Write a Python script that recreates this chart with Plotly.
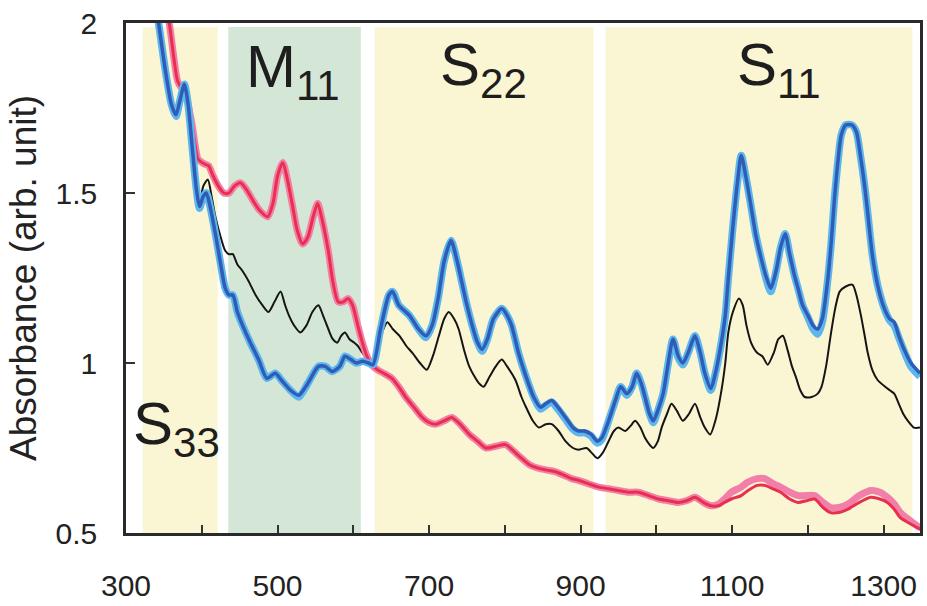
import plotly.graph_objects as go

# --- Optical absorbance spectra (normalized near 620 nm) ---
# Black: pristine dispersion
black_wl = [335, 343, 352, 360, 366, 371, 377, 382, 388, 393, 397, 402, 408, 413, 418, 425, 431, 436, 441, 447,
            454, 462, 471, 480, 488, 496, 504, 510, 515, 522, 530, 538, 546, 554, 560, 567, 573, 579, 584, 589,
            595, 601, 606, 612, 618, 624, 630, 638, 645, 652, 661, 670, 678, 688, 697, 705, 713, 720, 726, 733,
            739, 746, 753, 760, 766, 772, 780, 788, 796, 803, 814, 822, 828, 837, 845, 854, 862, 871, 880, 890,
            897, 908, 915, 922, 929, 937, 944, 950, 959, 966, 972, 979, 985, 991, 996, 1002, 1007, 1014, 1020, 1027,
            1035, 1043, 1051, 1058, 1064, 1071, 1079, 1086, 1091, 1095, 1101, 1109, 1114, 1119, 1125, 1133, 1140, 1147, 1155, 1161,
            1167, 1173, 1179, 1184, 1190, 1196, 1205, 1213, 1218, 1224, 1230, 1236, 1242, 1250, 1259, 1264, 1270, 1275, 1279, 1285,
            1292, 1302, 1308, 1314, 1320, 1326, 1332, 1340, 1348]
black_abs = [2.12, 2.00, 1.86, 1.76, 1.73, 1.77, 1.82, 1.76, 1.62, 1.51, 1.465, 1.52, 1.54, 1.49, 1.43, 1.37, 1.33, 1.32, 1.32, 1.29,
             1.27, 1.24, 1.20, 1.17, 1.15, 1.18, 1.21, 1.17, 1.14, 1.11, 1.09, 1.11, 1.15, 1.17, 1.14, 1.10, 1.07, 1.06, 1.08, 1.09,
             1.07, 1.06, 1.05, 1.03, 1.01, 0.995, 1.03, 1.09, 1.12, 1.10, 1.08, 1.05, 1.03, 1.00, 0.98, 1.02, 1.08, 1.13, 1.15, 1.13,
             1.10, 1.04, 0.99, 0.96, 0.94, 0.93, 0.96, 0.99, 1.01, 0.99, 0.95, 0.90, 0.87, 0.83, 0.81, 0.82, 0.82, 0.80, 0.77, 0.75,
             0.745, 0.75, 0.735, 0.72, 0.735, 0.77, 0.80, 0.81, 0.80, 0.815, 0.83, 0.81, 0.78, 0.76, 0.75, 0.77, 0.81, 0.85, 0.88, 0.86,
             0.83, 0.85, 0.88, 0.84, 0.81, 0.79, 0.84, 0.92, 1.00, 1.09, 1.15, 1.19, 1.17, 1.11, 1.06, 1.03, 1.02, 0.995, 1.03, 1.07,
             1.08, 1.04, 0.99, 0.96, 0.92, 0.90, 0.90, 0.91, 0.93, 0.99, 1.08, 1.16, 1.21, 1.225, 1.23, 1.20, 1.14, 1.08, 1.03, 0.98,
             0.95, 0.93, 0.92, 0.91, 0.88, 0.85, 0.83, 0.81, 0.81]

# Blue: semiconducting-enriched fraction (dark core + light halo)
blue_wl = [335, 343, 352, 360, 366, 371, 377, 382, 388, 393, 397, 402, 406, 411, 418, 425, 431, 436, 441, 447,
           454, 464, 475, 486, 497, 505, 517, 528, 540, 554, 563, 572, 582, 589, 597, 604, 612, 620, 626, 636,
           647, 652, 660, 674, 686, 696, 704, 712, 720, 729, 737, 743, 750, 757, 764, 770, 777, 785, 796, 803,
           809, 818, 828, 838, 847, 854, 862, 870, 880, 890, 897, 905, 914, 922, 928, 937, 946, 953, 961, 968,
           974, 980, 985, 991, 996, 1002, 1009, 1015, 1022, 1029, 1035, 1042, 1051, 1058, 1064, 1072, 1078, 1085, 1091, 1095,
           1101, 1107, 1112, 1118, 1125, 1131, 1137, 1144, 1151, 1158, 1164, 1170, 1176, 1182, 1187, 1193, 1200, 1207, 1213, 1219,
           1226, 1231, 1235, 1240, 1244, 1250, 1258, 1264, 1270, 1275, 1280, 1285, 1292, 1301, 1308, 1314, 1320, 1327, 1336, 1348]
blue_abs = [2.12, 2.00, 1.86, 1.76, 1.73, 1.77, 1.82, 1.76, 1.62, 1.51, 1.46, 1.49, 1.50, 1.46, 1.38, 1.29, 1.22, 1.20, 1.20, 1.15,
            1.11, 1.06, 1.01, 0.955, 0.97, 0.95, 0.92, 0.905, 0.94, 0.99, 0.99, 0.975, 0.99, 1.02, 1.01, 1.00, 1.005, 1.00, 0.995, 1.10,
            1.20, 1.21, 1.17, 1.14, 1.10, 1.08, 1.11, 1.19, 1.30, 1.36, 1.30, 1.24, 1.17, 1.11, 1.06, 1.04, 1.07, 1.13, 1.16, 1.14,
            1.11, 1.03, 0.96, 0.90, 0.87, 0.88, 0.89, 0.87, 0.84, 0.81, 0.80, 0.80, 0.79, 0.77, 0.78, 0.83, 0.89, 0.93, 0.91, 0.93,
            0.97, 0.94, 0.90, 0.85, 0.83, 0.86, 0.91, 0.99, 1.07, 1.02, 1.00, 1.03, 1.08, 1.03, 0.97, 0.925, 0.97, 1.05, 1.14, 1.25,
            1.40, 1.53, 1.61, 1.55, 1.46, 1.38, 1.32, 1.26, 1.22, 1.27, 1.34, 1.38, 1.32, 1.26, 1.22, 1.17, 1.14, 1.11, 1.10, 1.13,
            1.24, 1.36, 1.48, 1.60, 1.67, 1.70, 1.70, 1.68, 1.60, 1.52, 1.42, 1.32, 1.23, 1.16, 1.13, 1.12, 1.08, 1.04, 1.00, 0.97]
light_blue_abs = [2.12, 2.00, 1.86, 1.76, 1.725, 1.77, 1.82, 1.76, 1.62, 1.51, 1.455, 1.49, 1.50, 1.46, 1.38, 1.29, 1.22, 1.20, 1.20, 1.15,
                  1.11, 1.06, 1.01, 0.955, 0.97, 0.95, 0.92, 0.90, 0.94, 0.99, 0.99, 0.975, 0.99, 1.02, 1.01, 1.00, 1.005, 1.00, 0.995, 1.10,
                  1.20, 1.21, 1.17, 1.14, 1.10, 1.075, 1.11, 1.19, 1.30, 1.36, 1.30, 1.24, 1.17, 1.11, 1.06, 1.035, 1.07, 1.13, 1.16, 1.14,
                  1.11, 1.03, 0.96, 0.90, 0.865, 0.875, 0.885, 0.865, 0.835, 0.805, 0.795, 0.795, 0.785, 0.765, 0.775, 0.83, 0.89, 0.93, 0.905, 0.93,
                  0.97, 0.94, 0.90, 0.85, 0.825, 0.86, 0.91, 0.99, 1.07, 1.015, 0.995, 1.03, 1.08, 1.03, 0.97, 0.92, 0.97, 1.05, 1.14, 1.25,
                  1.40, 1.53, 1.61, 1.55, 1.46, 1.38, 1.32, 1.255, 1.21, 1.27, 1.34, 1.38, 1.32, 1.26, 1.22, 1.17, 1.135, 1.10, 1.085, 1.12,
                  1.24, 1.36, 1.48, 1.60, 1.67, 1.70, 1.70, 1.68, 1.60, 1.52, 1.42, 1.32, 1.23, 1.16, 1.125, 1.11, 1.075, 1.035, 0.99, 0.96]

# Red: metallic-enriched fraction (red core + pink halo)
red_wl = [345, 352, 357, 363, 368, 373, 378, 383, 388, 392, 395, 400, 404, 409, 415, 422, 429, 436, 443, 451,
          459, 467, 476, 487, 494, 500, 507, 513, 520, 526, 533, 540, 547, 553, 559, 567, 573, 580, 587, 593,
          599, 606, 612, 618, 624, 632, 640, 651, 660, 669, 680, 691, 700, 709, 720, 730, 741, 753, 764, 775,
          788, 801, 812, 822, 833, 845, 856, 867, 878, 888, 897, 910, 924, 937, 950, 963, 976, 990, 1003, 1016,
          1029, 1040, 1051, 1062, 1072, 1082, 1090, 1099, 1112, 1121, 1133, 1143, 1154, 1164, 1176, 1187, 1198, 1209, 1220, 1230,
          1241, 1253, 1268, 1283, 1295, 1305, 1314, 1322, 1333, 1345, 1350]
red_abs = [2.12, 2.04, 2.00, 1.90, 1.83, 1.81, 1.80, 1.75, 1.69, 1.63, 1.60, 1.59, 1.585, 1.58, 1.55, 1.52, 1.50, 1.50, 1.52, 1.53,
           1.51, 1.48, 1.45, 1.43, 1.47, 1.55, 1.59, 1.54, 1.46, 1.39, 1.35, 1.37, 1.43, 1.47, 1.42, 1.33, 1.24, 1.18, 1.18, 1.19,
           1.17, 1.11, 1.06, 1.02, 0.995, 0.98, 0.97, 0.955, 0.93, 0.90, 0.87, 0.84, 0.825, 0.82, 0.83, 0.84, 0.82, 0.79, 0.77, 0.75,
           0.755, 0.76, 0.74, 0.72, 0.70, 0.69, 0.685, 0.68, 0.67, 0.66, 0.655, 0.645, 0.635, 0.63, 0.625, 0.62, 0.62, 0.61, 0.60, 0.595,
           0.59, 0.595, 0.605, 0.59, 0.58, 0.58, 0.59, 0.60, 0.61, 0.625, 0.64, 0.64, 0.63, 0.62, 0.60, 0.59, 0.595, 0.60, 0.575, 0.56,
           0.56, 0.57, 0.59, 0.605, 0.60, 0.59, 0.57, 0.545, 0.53, 0.515, 0.51]
pink_abs = [2.12, 2.04, 2.00, 1.90, 1.83, 1.81, 1.80, 1.75, 1.69, 1.63, 1.60, 1.59, 1.585, 1.58, 1.55, 1.52, 1.50, 1.50, 1.52, 1.53,
            1.51, 1.48, 1.45, 1.43, 1.47, 1.55, 1.59, 1.54, 1.46, 1.39, 1.35, 1.37, 1.43, 1.47, 1.42, 1.33, 1.24, 1.18, 1.18, 1.19,
            1.17, 1.11, 1.06, 1.02, 0.995, 0.98, 0.97, 0.955, 0.93, 0.90, 0.87, 0.84, 0.825, 0.82, 0.83, 0.84, 0.82, 0.79, 0.77, 0.75,
            0.755, 0.76, 0.74, 0.72, 0.70, 0.69, 0.685, 0.68, 0.67, 0.66, 0.655, 0.645, 0.635, 0.63, 0.625, 0.62, 0.62, 0.61, 0.60, 0.595,
            0.59, 0.595, 0.605, 0.59, 0.58, 0.585, 0.60, 0.62, 0.635, 0.65, 0.66, 0.66, 0.645, 0.635, 0.62, 0.61, 0.61, 0.61, 0.59, 0.575,
            0.575, 0.585, 0.61, 0.625, 0.62, 0.605, 0.585, 0.56, 0.54, 0.52, 0.515]

# Transition bands (nm)
band_names = ["S<sub>33</sub>", "M<sub>11</sub>", "S<sub>22</sub>", "S<sub>11</sub>"]
band_start = [322, 435, 628, 933]
band_end = [421, 610, 917, 1338]
band_kind = ["S", "M", "S", "S"]

x_ticks = [300, 500, 700, 900, 1100, 1300]
y_ticks = [0.5, 1, 1.5, 2]
y_tick_text = ["0.5", "1", "1.5", "2"]

FONT = "Liberation Sans, Arial, Helvetica, sans-serif"
band_fill = {"S": "#FAF6D3", "M": "#D4E7D6"}

fig = go.Figure()

smooth = dict(shape="spline", smoothing=0.7)
fig.add_trace(go.Scatter(x=black_wl, y=black_abs, mode="lines",
                         line=dict(color="#151515", width=2, **smooth), hoverinfo="skip"))
fig.add_trace(go.Scatter(x=red_wl, y=pink_abs, mode="lines",
                         line=dict(color="#F27FAA", width=7, **smooth), hoverinfo="skip"))
fig.add_trace(go.Scatter(x=red_wl, y=red_abs, mode="lines",
                         line=dict(color="#E8304E", width=3, **smooth), hoverinfo="skip"))
fig.add_trace(go.Scatter(x=blue_wl, y=light_blue_abs, mode="lines",
                         line=dict(color="#5DB6EE", width=7.5, **smooth), hoverinfo="skip"))
fig.add_trace(go.Scatter(x=blue_wl, y=blue_abs, mode="lines",
                         line=dict(color="#2F5DB6", width=3.5, **smooth), hoverinfo="skip"))

# Shaded transition bands behind the spectra
for x0, x1, kind in zip(band_start, band_end, band_kind):
    fig.add_shape(type="rect", xref="x", yref="paper", x0=x0, x1=x1, y0=0, y1=0.992,
                  fillcolor=band_fill[kind], line=dict(width=0), layer="below")

# Band labels
label_pos = [(366, 0.81), (520, 1.86), (772, 1.865), (1162, 1.865)]
for name, (lx, ly) in zip(band_names, label_pos):
    fig.add_annotation(x=lx, y=ly, xref="x", yref="y", text=name, showarrow=False,
                       xanchor="center", yanchor="middle",
                       font=dict(family=FONT, size=60, color="#1e1e1e"))

fig.update_layout(
    width=927, height=606,
    margin=dict(l=126, r=4, t=23, b=68),
    paper_bgcolor="white", plot_bgcolor="white",
    showlegend=False,
    font=dict(family=FONT, color="#222222"),
)
fig.update_xaxes(
    range=[300, 1348], tickmode="array", tickvals=x_ticks, ticktext=[str(v) for v in x_ticks],
    ticks="inside", ticklen=8, tickwidth=2, tickcolor="#333333",
    minor=dict(dtick=100, tick0=300, ticks="inside", ticklen=8, tickwidth=2, tickcolor="#333333"),
    showline=True, linecolor="#2a2a2a", linewidth=2.5, mirror=True,
    showgrid=False, zeroline=False,
    tickfont=dict(family=FONT, size=30, color="#222222"), ticklabelstandoff=24,
)
fig.update_yaxes(
    range=[0.5, 2], tickmode="array", tickvals=y_ticks, ticktext=y_tick_text,
    ticks="inside", ticklen=9, tickwidth=2, tickcolor="#333333",
    showline=True, linecolor="#2a2a2a", linewidth=2.5, mirror=True,
    showgrid=False, zeroline=False,
    tickfont=dict(family=FONT, size=30, color="#222222"), ticklabelstandoff=20,
    title=dict(text="Absorbance (arb. unit)", standoff=8,
               font=dict(family=FONT, size=37, color="#222222")),
)

fig.write_html("out.html")
